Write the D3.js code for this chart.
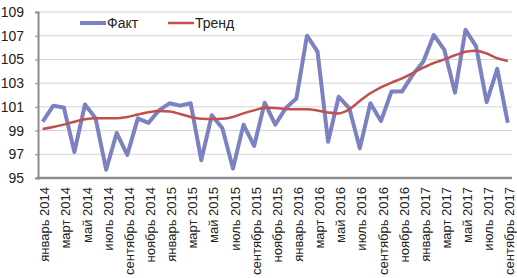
<!DOCTYPE html>
<html>
<head>
<meta charset="utf-8">
<script src="https://cdn.jsdelivr.net/npm/d3@7"></script>
<style>
  body { margin: 0; background: #fff; }
  svg { display: block; font-family: "Liberation Sans", Arial, sans-serif; }
</style>
</head>
<body>
<svg id="chart" width="517" height="278"></svg>
<script>
// Monthly categories, Jan 2014 .. Sep 2017
const monthNames = ["январь", "февраль", "март", "апрель", "май", "июнь",
    "июль", "август", "сентябрь", "октябрь", "ноябрь", "декабрь"];
const months = d3.range(45).map(i => `${monthNames[i % 12]} ${2014 + Math.floor(i / 12)}`);

// Series
const fact = [99.75, 101.1, 100.95, 97.2, 101.2, 100.05, 95.7, 98.8, 96.95, 100.03,
    99.65, 100.7, 101.3, 101.1, 101.3, 96.5, 100.3, 99.2, 95.8, 99.5,
    97.7, 101.35, 99.5, 100.9, 101.7, 107.0, 105.65, 98.06, 101.85, 100.9,
    97.5, 101.3, 99.8, 102.3, 102.3, 103.7, 104.8, 107.06, 105.8, 102.2,
    107.5, 106.1, 101.4, 104.2, 99.66];
const trend = [99.13, 99.3, 99.5, 99.75, 99.95, 100.03, 100.03, 100.03, 100.15, 100.35,
    100.55, 100.65, 100.6, 100.4, 100.15, 100.0, 99.97, 100.0, 100.15, 100.45,
    100.7, 100.92, 100.9, 100.82, 100.8, 100.8, 100.7, 100.52, 100.45, 100.8,
    101.5, 102.15, 102.65, 103.05, 103.4, 103.85, 104.3, 104.7, 105.0, 105.35,
    105.65, 105.74, 105.5, 105.1, 104.87];
const yTicks = [95, 97, 99, 101, 103, 105, 107, 109];
const seriesNames = ["Факт", "Тренд"];

const svg = d3.select("#chart");
const plot = { left: 38, right: 512, top: 12, bottom: 178 };

const x = d3.scalePoint()
    .domain(d3.range(months.length))
    .range([42.7, 507.8]);
const y = d3.scaleLinear()
    .domain([95, 109])
    .range([plot.bottom, plot.top]);

// Gridlines
svg.append("g")
    .selectAll("line")
    .data(yTicks.slice(1))
    .join("line")
    .attr("x1", plot.left)
    .attr("x2", plot.right)
    .attr("y1", d => y(d))
    .attr("y2", d => y(d))
    .attr("stroke", "#d4d4d4")
    .attr("stroke-width", 1);

// Y axis
const yAxis = svg.append("g")
    .attr("transform", `translate(${plot.left},0)`)
    .call(d3.axisLeft(y).tickValues(yTicks).tickSize(3).tickPadding(11));
yAxis.select(".domain").attr("stroke", "#8c8c8c").attr("stroke-width", 2);
yAxis.selectAll(".tick line").attr("stroke", "#8c8c8c");
yAxis.selectAll(".tick text")
    .attr("font-size", 14)
    .attr("fill", "#222");

// X axis
svg.append("line")
    .attr("x1", plot.left - 1)
    .attr("x2", plot.right)
    .attr("y1", plot.bottom)
    .attr("y2", plot.bottom)
    .attr("stroke", "#8c8c8c")
    .attr("stroke-width", 2.5);

svg.append("g")
    .selectAll("text")
    .data(d3.range(0, months.length, 2))
    .join("text")
    .attr("transform", d => `translate(${x(d) + 2},${plot.bottom + 9}) rotate(-90)`)
    .attr("text-anchor", "end")
    .attr("dy", "0.35em")
    .attr("font-size", 13)
    .attr("fill", "#222")
    .text(d => months[d]);

// Lines
const line = d3.line()
    .x((d, i) => x(i))
    .y(d => y(d));

svg.append("path")
    .datum(fact)
    .attr("d", line)
    .attr("fill", "none")
    .attr("stroke", "#7c81c2")
    .attr("stroke-width", 4)
    .attr("stroke-linejoin", "round");

svg.append("path")
    .datum(trend)
    .attr("d", line.curve(d3.curveMonotoneX))
    .attr("fill", "none")
    .attr("stroke", "#c0504d")
    .attr("stroke-width", 2.5);

// Legend
const legendColors = ["#7c81c2", "#c0504d"];
const legendWidths = [4, 2.5];
const legend = svg.append("g")
    .selectAll("g")
    .data(seriesNames)
    .join("g")
    .attr("transform", (d, i) => `translate(${80 + i * 88},23)`);
legend.append("line")
    .attr("x1", 0)
    .attr("x2", 26)
    .attr("stroke", (d, i) => legendColors[i])
    .attr("stroke-width", (d, i) => legendWidths[i]);
legend.append("text")
    .attr("x", 27)
    .attr("dy", "0.35em")
    .attr("font-size", 14)
    .attr("fill", "#222")
    .text(d => d);
</script>
</body>
</html>
